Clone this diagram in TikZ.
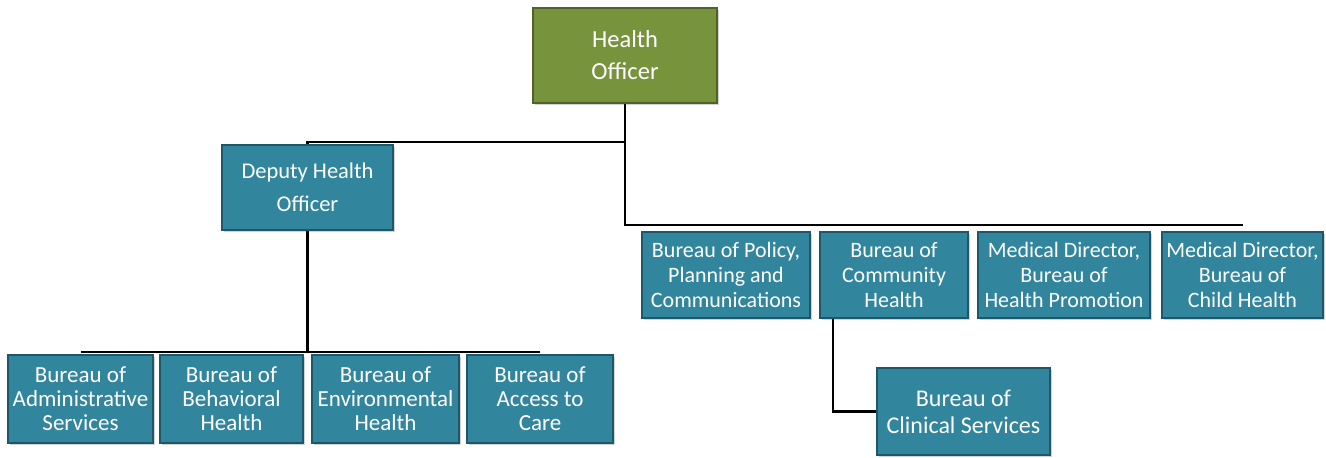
\documentclass[tikz,border=0pt]{standalone}
\usepackage{fontspec}
\setmainfont{Carlito}
\usepackage{xcolor}
\usetikzlibrary{shadows}
\definecolor{bureaublue}{RGB}{49,133,156}
\definecolor{bureauedge}{RGB}{30,88,104}
\definecolor{officergreen}{RGB}{119,147,60}
\definecolor{officeredge}{RGB}{79,98,40}

\begin{document}
\begin{tikzpicture}[x=1pt,y=-1pt,
  bureau/.style={rectangle,fill=bureaublue,draw=bureauedge,line width=1.5pt,
    text=white,align=center,inner sep=1pt,
    drop shadow={opacity=0.35,shadow xshift=1.5pt,shadow yshift=-1.5pt},
    font=\fontsize{22}{25}\selectfont},
  lowbureau/.style={bureau,font=\fontsize{23}{24}\selectfont},
  officer/.style={bureau,fill=officergreen,draw=officeredge,
    font=\fontsize{24.5}{32}\selectfont},
  link/.style={line width=2.6pt}]
\useasboundingbox (0,0) rectangle (1326,458);
\node[officer,minimum width=184pt,minimum height=95pt] (ho) at (625,55.5) {Health\\Officer};
\node[bureau,minimum width=171pt,minimum height=85pt,font=\fontsize{22.5}{33}\selectfont] (dho) at (307.5,187.5) {Deputy Health\\Officer};
\node[lowbureau,minimum width=145pt,minimum height=88pt] (adm) at (80.5,399) {Bureau of\\Administrative\\Services};
\node[lowbureau,minimum width=143pt,minimum height=88pt] (beh) at (231.5,399) {Bureau of\\Behavioral\\Health};
\node[lowbureau,minimum width=147pt,minimum height=88pt] (env) at (385.5,399) {Bureau of\\Environmental\\Health};
\node[lowbureau,minimum width=146pt,minimum height=88pt] (acc) at (540,399) {Bureau of\\Access to\\Care};
\node[bureau,minimum width=168pt,minimum height=86pt] (pol) at (726,275) {Bureau of Policy,\\Planning and\\Communications};
\node[bureau,minimum width=148pt,minimum height=86pt] (com) at (894,275) {Bureau of\\Community\\Health};
\node[bureau,minimum width=172pt,minimum height=86pt] (hp) at (1064,275) {Medical Director,\\Bureau of\\Health Promotion};
\node[bureau,minimum width=161pt,minimum height=86pt] (ch) at (1242.5,275) {Medical Director,\\Bureau of\\Child Health};
\node[bureau,minimum width=173pt,minimum height=87pt,font=\fontsize{24}{27}\selectfont] (cli) at (963.5,411.5) {Bureau of\\Clinical Services};
\coordinate (toprail) at (0,142);
\coordinate (rightrail) at (0,225);
\coordinate (leftrail) at (0,352);
\draw[link] (ho.south) -- (ho.south |- toprail) -| (dho.north);
\draw[link] (ho.south |- toprail) -- (ho.south |- rightrail) -- (ch.north |- rightrail);
\draw[link] (dho.south) -- (dho.south |- leftrail);
\draw[link] (adm.north |- leftrail) -- (acc.north |- leftrail);
\draw[link] ([xshift=-61pt]com.south) |- (cli.west);
\end{tikzpicture}
\end{document}
